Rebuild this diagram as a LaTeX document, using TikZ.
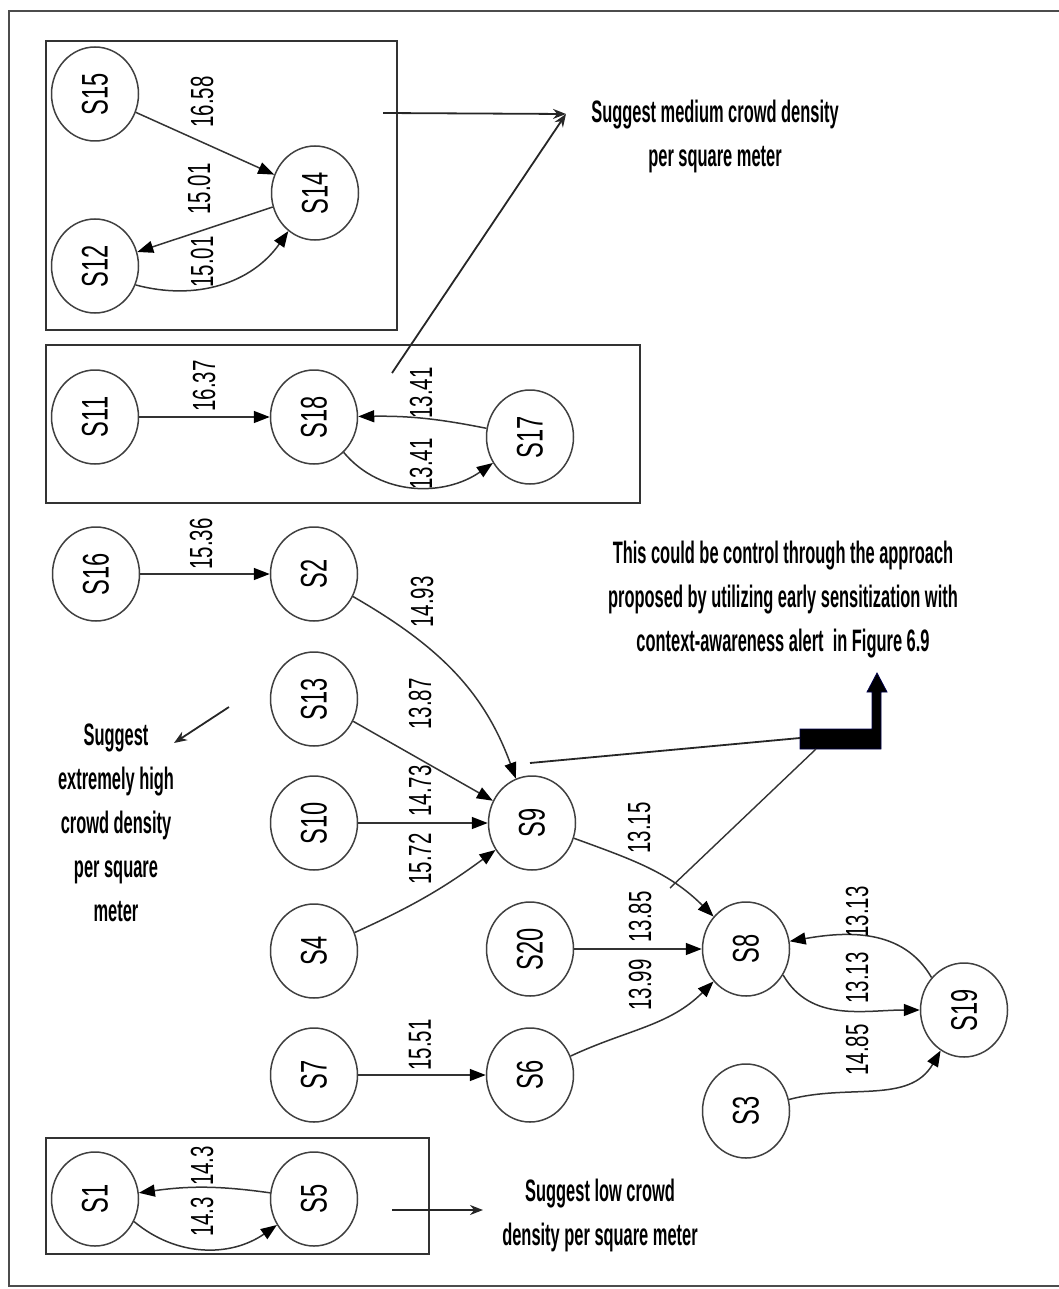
\documentclass[tikz,border=0pt]{standalone}
\usepackage{fontspec}
\setmainfont{Liberation Sans}
\newfontfamily\statefont[FakeStretch=0.64]{Liberation Sans}
\newfontfamily\notefont[FakeStretch=0.53]{Liberation Sans Bold}
\usetikzlibrary{calc,arrows.meta,shapes.geometric}

\begin{document}
\begin{tikzpicture} [x=1pt,y=1pt,{state/.style={ellipse,draw=black!75,line width=1.5pt,minimum width=87pt,minimum height=94pt,inner sep=0pt,font=\statefont\fontsize{37}{40}\selectfont}},{wt/.style={rotate=90,inner sep=0pt,font=\statefont\fontsize{32}{34}\selectfont}},{link/.style={draw=black!80,line width=1.5pt,-{Triangle[length=16pt,width=12pt,color=black]}}},{pointer/.style={draw=black!85,line width=1.8pt,-{Stealth[length=13pt,width=10pt]}}},{note/.style={align=center,inner sep=0pt,font=\notefont\fontsize{31}{44}\selectfont}},{groupbox/.style={draw=black!80,line width=2pt}}]
	\useasboundingbox (0,0) rectangle (1059,-1289);
	%%outer frame
	\draw [black!70,line width=2pt] (1059,-11) -- (9,-11) -- (9,-1286) -- (1059,-1286);
	%%group boxes
	\draw [groupbox] (46,-41) rectangle (397,-330);
	\draw [groupbox] (46,-345) rectangle (640,-503);
	\draw [groupbox] (46,-1138) rectangle (429,-1254);
	%%states
	\node [state] (S15) at (95,-94) {\rotatebox{90}{S15}};
	\node [state] (S14) at (315,-193) {\rotatebox{90}{S14}};
	\node [state] (S12) at (95,-266) {\rotatebox{90}{S12}};
	\node [state] (S11) at (95,-417) {\rotatebox{90}{S11}};
	\node [state] (S18) at (314,-417) {\rotatebox{90}{S18}};
	\node [state] (S17) at (530,-437) {\rotatebox{90}{S17}};
	\node [state] (S16) at (96,-574) {\rotatebox{90}{S16}};
	\node [state] (S2) at (314,-574) {\rotatebox{90}{S2}};
	\node [state] (S13) at (314,-699) {\rotatebox{90}{S13}};
	\node [state] (S10) at (314,-823) {\rotatebox{90}{S10}};
	\node [state] (S9) at (532,-823) {\rotatebox{90}{S9}};
	\node [state] (S4) at (314,-951) {\rotatebox{90}{S4}};
	\node [state] (S20) at (530,-949) {\rotatebox{90}{S20}};
	\node [state] (S8) at (746,-949) {\rotatebox{90}{S8}};
	\node [state] (S19) at (964,-1010) {\rotatebox{90}{S19}};
	\node [state] (S7) at (314,-1075) {\rotatebox{90}{S7}};
	\node [state] (S6) at (530,-1075) {\rotatebox{90}{S6}};
	\node [state] (S3) at (746,-1111) {\rotatebox{90}{S3}};
	\node [state] (S1) at (95,-1199) {\rotatebox{90}{S1}};
	\node [state] (S5) at (314,-1199) {\rotatebox{90}{S5}};
	%%transitions
	\draw [link] (S15) -- (S14);
	\draw [link] (S14) -- (S12);
	\draw [link] (S12.-25) to[out=-15,in=-125] (S14);
	\draw [link] (S11) -- (S18);
	\draw [link] (S17) to[bend right=6] (S18);
	\draw [link] (S18) to[out=-50,in=-145] (S17);
	\draw [link] (S16) -- (S2);
	\draw [link] (S2) to[out=-30,in=110] (S9);
	\draw [link] (S13) -- (S9);
	\draw [link] (S10) -- (S9);
	\draw [link] (S4) to[bend right=6] (S9);
	\draw [link] (S9) to[out=-20,in=135] (S8);
	\draw [link] (S20) -- (S8);
	\draw [link] (S6) to[out=25,in=-135] (S8);
	\draw [link] (S7) -- (S6);
	\draw [link] (S8.-35) to[out=-60,in=180] (S19);
	\draw [link] (S19.135) to[out=120,in=10] (S8);
	\draw [link] (S3) to[out=15,in=-120] (S19);
	\draw [link] (S5) to[bend right=8] (S1);
	\draw [link] (S1.-30) to[out=-40,in=-145] (S5);
	%%weights
	\node [wt] (w1) at (202,-102) {16.58};
	\node [wt] (w2) at (199,-189) {15.01};
	\node [wt] (w3) at (202,-262) {15.01};
	\node [wt] (w4) at (204,-386) {16.37};
	\node [wt] (w5) at (421,-393) {13.41};
	\node [wt] (w6) at (421,-464) {13.41};
	\node [wt] (w7) at (201,-544) {15.36};
	\node [wt] (w8) at (422,-602) {14.93};
	\node [wt] (w9) at (420,-704) {13.87};
	\node [wt] (w10) at (420,-791) {14.73};
	\node [wt] (w11) at (420,-859) {15.72};
	\node [wt] (w12) at (639,-828) {13.15};
	\node [wt] (w13) at (640,-917) {13.85};
	\node [wt] (w14) at (640,-985) {13.99};
	\node [wt] (w15) at (857,-912) {13.13};
	\node [wt] (w16) at (857,-978) {13.13};
	\node [wt] (w17) at (857,-1050) {14.85};
	\node [wt] (w18) at (420,-1045) {15.51};
	\node [wt] (w19) at (202,-1166) {14.3};
	\node [wt] (w20) at (202,-1217) {14.3};
	%%notes
	\node [note] (medium) at (715,-136) {Suggest medium crowd density\\per square meter};
	\node [note] (control) at (783,-600) {This could be control through the approach\\proposed by utilizing early sensitization with\\context-awareness alert\ \ in Figure 6.9};
	\node [note] (high) at (116,-823) {Suggest\\extremely high\\crowd density\\per square\\meter};
	\node [note] (low) at (600,-1215) {Suggest low crowd\\density per square meter};
	%%pointers to notes
	\coordinate (m1) at (383,-113);
	\coordinate (m2) at (392,-373);
	\coordinate (mtip) at (566,-114);
	\coordinate (h1) at (229,-707);
	\coordinate (htip) at (174,-743);
	\coordinate (l1) at (392,-1210);
	\coordinate (ltip) at (483,-1210);
	\draw [pointer] (m1) -- (mtip);
	\draw [pointer] (m2) -- (mtip);
	\draw [pointer] (h1) -- (htip);
	\draw [pointer] (l1) -- (ltip);
	%%bent arrow towards the control note
	\fill [black,draw=blue!30!black,line width=0.8pt] (800,-729) -- (872,-729) -- (872,-692) -- (867,-692) -- (877,-673) -- (887,-692) -- (881,-692) -- (881,-749) -- (800,-749) -- cycle;
	\coordinate (b1) at (800,-738);
	\coordinate (b2) at (816,-749);
	\coordinate (c1) at (530,-763);
	\coordinate (c2) at (670,-888);
	\draw [black!85,line width=1.8pt] (c1) -- (b1);
	\draw [black!80,line width=1.4pt] (b2) -- (c2);
\end{tikzpicture}
\end{document}
